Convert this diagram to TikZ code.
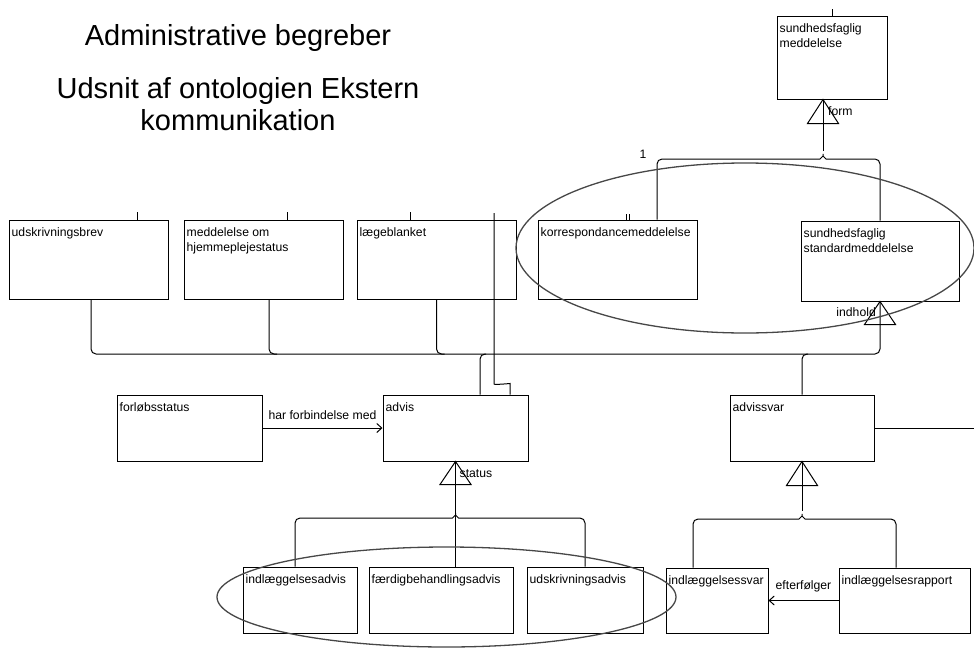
\documentclass[tikz,border=0pt]{standalone}
\usepackage{fontspec}
\setmainfont{Liberation Sans}
\usetikzlibrary{arrows.meta}
\tikzset{
  cls/.style 2 args = {draw=black, rectangle, inner sep=0pt, line width=1pt, minimum width=#1, minimum height=#2},
  ctext/.style = {anchor=north west, xshift=3pt, yshift=-7.5pt, inner sep=0pt, align=left, font=\fontsize{12.2}{15}\selectfont},
  conn/.style = {draw=black, line width=1pt, rounded corners=5pt},
  gen/.style = {draw=black, line width=1pt},
  rel/.style = {conn, -{Straight Barb[length=5pt, width=9pt]}},
  rlabel/.style = {inner sep=1pt, font=\fontsize{12.2}{14}\selectfont},
  grp/.style = {draw=black!72, line width=1.3pt},
  title/.style = {align=center, font=\fontsize{29}{32}\selectfont},
}

\begin{document}
\begin{tikzpicture}[x=1pt, y=-1pt]
\useasboundingbox (0,0) rectangle (974,648);

% titles
\node[title] (t1) at (238,38) {Administrative begreber};
\node[title] (t2) at (238,104) {Udsnit af ontologien Ekstern\\kommunikation};

% classes
\node[cls={159pt}{79pt}, label={[ctext]north west:udskrivningsbrev}] (brev) at (88.5,259.5) {};
\node[cls={159pt}{79pt}, label={[ctext]north west:{meddelelse om\\hjemmeplejestatus}}] (hjem) at (263.5,259.5) {};
\node[cls={159pt}{79pt}, label={[ctext]north west:lægeblanket}] (laege) at (436.5,259.5) {};
\node[cls={159pt}{79pt}, label={[ctext]north west:korrespondancemeddelelse}] (korr) at (617.5,259.5) {};
\node[cls={158pt}{80pt}, label={[ctext]north west:{sundhedsfaglig\\standardmeddelelse}}] (sstd) at (880,261) {};
\node[cls={110pt}{83pt}, label={[ctext]north west:{sundhedsfaglig\\meddelelse}}] (sm) at (832,57.5) {};
\node[cls={145pt}{66pt}, label={[ctext]north west:forløbsstatus}] (forl) at (189.5,428) {};
\node[cls={145pt}{66pt}, label={[ctext]north west:advis}] (advis) at (455.5,428) {};
\node[cls={144pt}{66pt}, label={[ctext]north west:advissvar}] (svar) at (802,428) {};
\node[cls={114pt}{66pt}, label={[ctext]north west:indlæggelsesadvis}] (iadv) at (300,600) {};
\node[cls={144pt}{66pt}, label={[ctext]north west:færdigbehandlingsadvis}] (fadv) at (441,600) {};
\node[cls={116pt}{66pt}, label={[ctext]north west:udskrivningsadvis}] (uadv) at (585,600) {};
\node[cls={102pt}{65pt}, label={[ctext]north west:indlæggelsessvar}] (isvar) at (717,600.5) {};
\node[cls={131pt}{65pt}, label={[ctext]north west:indlæggelsesrapport}] (irap) at (904.5,600.5) {};

% cut-off stubs
\draw[conn] ([xshift=48.5pt]brev.north) -- ++(0,-8);
\draw[conn] ([xshift=23.5pt]hjem.north) -- ++(0,-8);
\draw[conn] ([xshift=-26.5pt]laege.north) -- ++(0,-8);
\draw[gen, line width=0.7pt] ([xshift=8.5pt]korr.north) -- ++(0,-6);
\draw[gen, line width=0.7pt] ([xshift=11.5pt]korr.north) -- ++(0,-6);
\draw[conn] (sm.north) -- ++(0,-7);

% form
\coordinate (fapex) at ([xshift=-9pt]sm.south);
\coordinate (fbr) at (fapex |- 0,159);
\draw[gen] (fapex) -- ++(-15.5,24) -- ++(31,0) -- cycle;
\draw[conn] (fapex) -- ([yshift=8pt]fbr);
\draw[conn] ([xshift=39.5pt]korr.north) |- ([xshift=-8pt]fbr)
  .. controls ([xshift=-3pt]fbr) and ([yshift=3pt]fbr) .. ([yshift=8pt]fbr)
  .. controls ([yshift=3pt]fbr) and ([xshift=3pt]fbr) .. ([xshift=8pt]fbr) -| (sstd.north);
\node[rlabel, anchor=west] (flab) at ([xshift=4pt, yshift=-12pt]fapex) {form};
\node[rlabel] (mult) at (643,154) {1};

% indhold
\coordinate (bus) at (0,354);
\coordinate (sbus) at (bus -| sstd.south);
\draw[gen] (sstd.south) -- ++(-15.5,23) -- ++(31,0) -- cycle;
\draw[conn] ([xshift=2.5pt]brev.south) |- (sbus) -- (sstd.south);
\coordinate (hdrop) at ([xshift=5.5pt]hjem.south);
\coordinate (hbus) at (bus -| hdrop);
\draw[conn] (hdrop) |- ([xshift=8pt]hbus);
\coordinate (lbus) at (bus -| laege.south);
\draw[conn] (laege.south) |- ([xshift=8pt]lbus);
\coordinate (atop) at ([xshift=24.5pt]advis.north);
\coordinate (abus) at (bus -| atop);
\draw[conn] ([xshift=6pt]abus) -| (atop);
\coordinate (vbus) at (bus -| svar.north);
\draw[conn] ([xshift=6pt]vbus) -| (svar.north);
\node[rlabel, anchor=east] (ilab) at ([xshift=-3pt, yshift=-11pt]sstd.south) {indhold};

% line into advis from above
\coordinate (lstub) at (494,213);
\coordinate (ain) at ([xshift=54.5pt]advis.north);
\draw[conn] (lstub) -- ++(0,166) .. controls +(0,6) and +(0,-5) .. ([yshift=6pt]ain) -- (ain);

% associations
\draw[rel] (forl.east) -- node[rlabel, above=7pt] (hlab) {har forbindelse med} (advis.west);
\draw[rel] (irap.west) -- node[rlabel, above=7pt] (elab) {efterfølger} (isvar.east);
\coordinate (redge) at (svar.east -| 974,0);
\draw[conn] (svar.east) -- (redge);

% status
\coordinate (sapex) at (advis.south);
\coordinate (sbr) at (sapex |- 0,518);
\draw[gen] (sapex) -- ++(-15.5,23) -- ++(31,0) -- cycle;
\draw[conn] (sapex) -- (fadv.north -| sapex);
\draw[conn] ([xshift=-5pt]iadv.north) |- ([xshift=-8pt]sbr)
  .. controls ([xshift=-3pt]sbr) and ([yshift=3pt]sbr) .. ([yshift=8pt]sbr)
  .. controls ([yshift=3pt]sbr) and ([xshift=3pt]sbr) .. ([xshift=8pt]sbr) -| (uadv.north);
\node[rlabel, anchor=west] (slab) at ([xshift=3pt, yshift=-12pt]sapex) {status};

% advissvar
\coordinate (vapex) at (svar.south);
\coordinate (vbr) at (vapex |- 0,519);
\draw[gen] (vapex) -- ++(-15.5,24) -- ++(31,0) -- cycle;
\draw[conn] (vapex) -- ([yshift=8pt]vbr);
\draw[conn] ([xshift=-24pt]isvar.north) |- ([xshift=-8pt]vbr)
  .. controls ([xshift=-3pt]vbr) and ([yshift=3pt]vbr) .. ([yshift=8pt]vbr)
  .. controls ([yshift=3pt]vbr) and ([xshift=3pt]vbr) .. ([xshift=8pt]vbr) -| ([xshift=-8.5pt]irap.north);

% groupings
\draw[grp] (745,248) ellipse [x radius=229pt, y radius=85pt];
\draw[grp] (446.5,597) ellipse [x radius=229.5pt, y radius=50pt];
\end{tikzpicture}
\end{document}
